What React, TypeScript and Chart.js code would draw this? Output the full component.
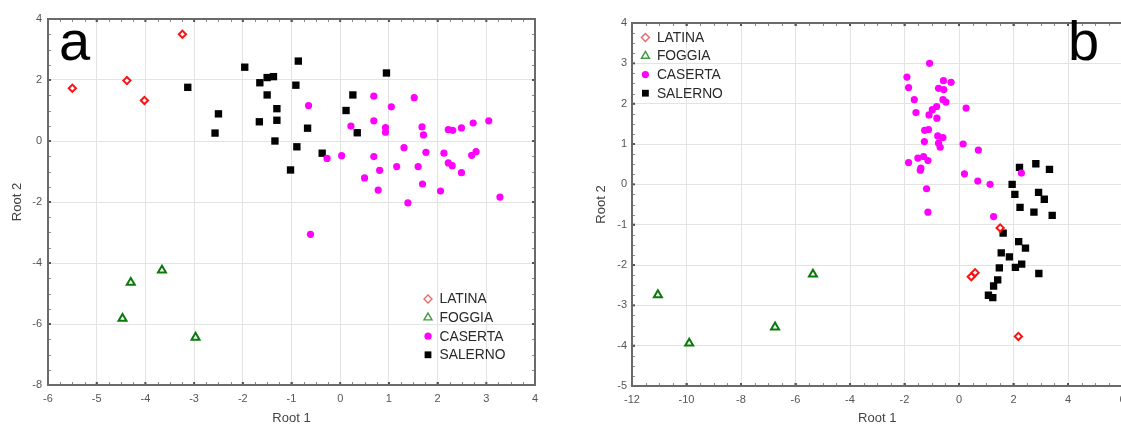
import React, { useEffect, useRef } from 'react';
import { Chart, registerables } from 'chart.js';
Chart.register(...registerables);

const seriesNames = ['LATINA', 'FOGGIA', 'CASERTA', 'SALERNO'];

// Panel a
const latinaA = [[-5.50, 1.73], [-4.38, 1.98], [-4.02, 1.33], [-3.24, 3.50]];
const foggiaA = [[-4.30, -4.64], [-3.66, -4.24], [-4.47, -5.82], [-2.97, -6.44]];
const casertaA = [
  [-0.65, 1.16], [-0.27, -0.57], [0.03, -0.48], [0.22, 0.49], [0.69, 1.47], [0.69, 0.66],
  [0.93, 0.44], [0.93, 0.29], [1.05, 1.12], [0.69, -0.51], [0.81, -0.96], [0.50, -1.21],
  [0.78, -1.61], [1.16, -0.84], [1.31, -0.22], [1.39, -2.03], [1.52, 1.42], [1.68, 0.46],
  [1.71, 0.20], [1.76, -0.37], [1.60, -0.84], [1.69, -1.41], [2.06, -1.64], [2.13, -0.40],
  [2.22, 0.37], [2.31, 0.35], [2.49, 0.43], [2.73, 0.59], [3.05, 0.66], [2.22, -0.72],
  [2.30, -0.81], [2.49, -1.04], [2.70, -0.47], [2.79, -0.35], [3.28, -1.84], [-0.61, -3.06],
];
const salernoA = [
  [-3.13, 1.76], [-2.50, 0.89], [-2.57, 0.26], [-1.96, 2.42], [-1.65, 1.91], [-1.50, 2.08],
  [-1.37, 2.11], [-1.50, 1.51], [-1.30, 1.06], [-1.30, 0.68], [-1.66, 0.63], [-1.34, 0.0],
  [-0.86, 2.62], [-0.91, 1.83], [-0.67, 0.42], [-0.89, -0.19], [-1.02, -0.95], [-0.37, -0.40],
  [0.26, 1.51], [0.12, 1.0], [0.35, 0.27], [0.95, 2.23],
];

// Panel b
const latinaB = [[1.51, -1.08], [0.45, -2.29], [0.59, -2.19], [2.18, -3.77]];
const foggiaB = [[-11.05, -2.74], [-9.90, -3.94], [-6.75, -3.54], [-5.36, -2.23]];
const casertaB = [
  [-1.08, 3.0], [-1.91, 2.66], [-1.85, 2.40], [-0.57, 2.57], [-0.29, 2.53], [-0.75, 2.38],
  [-0.56, 2.35], [-1.64, 2.10], [-0.59, 2.10], [-0.48, 2.04], [-1.58, 1.78], [-0.82, 1.93],
  [-0.98, 1.85], [-1.10, 1.72], [-0.81, 1.64], [0.26, 1.89], [-1.26, 1.34], [-1.12, 1.36],
  [-0.78, 1.20], [-0.59, 1.16], [-1.27, 1.06], [-0.75, 1.02], [-0.69, 0.92], [0.15, 1.0],
  [0.71, 0.85], [-1.85, 0.54], [-1.51, 0.65], [-1.30, 0.69], [-1.14, 0.59], [-1.40, 0.40],
  [-1.42, 0.35], [0.20, 0.26], [0.69, 0.08], [1.14, 0.0], [2.29, 0.28], [-1.19, -0.11],
  [-1.14, -0.69], [1.27, -0.80],
];
const salernoB = [
  [2.22, 0.42], [2.82, 0.51], [3.32, 0.37], [1.95, 0.0], [2.05, -0.25], [2.92, -0.20],
  [3.13, -0.37], [2.24, -0.57], [2.75, -0.69], [3.42, -0.77], [1.62, -1.21], [2.19, -1.42],
  [2.44, -1.58], [1.55, -1.70], [1.85, -1.80], [1.48, -2.07], [2.07, -2.06], [2.30, -1.98],
  [2.93, -2.21], [1.42, -2.37], [1.27, -2.52], [1.08, -2.75], [1.24, -2.81],
];

const xTicksA = { min: -6, max: 4, step: 1 };
const yTicksA = { min: -8, max: 4, step: 2 };
const xTicksB = { min: -12, max: 6, step: 2 };
const yTicksB = { min: -5, max: 4, step: 1 };

const FONT = 'Arial, "Liberation Sans", sans-serif';

const styles = [
  { pointStyle: 'rectRot', radius: 3.6, borderColor: '#ff1010', backgroundColor: 'rgba(255,255,255,1)', borderWidth: 2, legendColor: '#e86a6a' },
  { pointStyle: 'triangle', radius: 4.6, borderColor: '#0a7a0a', backgroundColor: 'rgba(255,255,255,1)', borderWidth: 2, legendColor: '#3f9a3f' },
  { pointStyle: 'circle', radius: 3.6, borderColor: '#ff00ff', backgroundColor: '#ff00ff', borderWidth: 0, legendColor: '#ff00ff' },
  { pointStyle: 'rect', radius: 5.2, borderColor: '#000000', backgroundColor: '#000000', borderWidth: 0, legendColor: '#000000' },
];

function toPts(arr: number[][]) {
  return arr.map(([x, y]) => ({ x, y }));
}

const decorPlugin = {
  id: 'decor',
  afterDraw(chart: any, _args: any, opts: any) {
    const { ctx, chartArea } = chart;
    const { left, right, top, bottom } = chartArea;
    const xs = chart.scales.x;
    const ys = chart.scales.y;
    const drawRight = !opts.hideRight;
    ctx.save();
    // minor ticks
    ctx.strokeStyle = '#8a8a8a';
    ctx.lineWidth = 1;
    const xsub = opts.xMinor, ysub = opts.yMinor;
    for (let v = xs.min; v <= xs.max + 1e-9; v += xsub) {
      const px = Math.round(xs.getPixelForValue(v)) + 0.5;
      ctx.beginPath();
      ctx.moveTo(px, top); ctx.lineTo(px, top + 3);
      ctx.moveTo(px, bottom); ctx.lineTo(px, bottom - 3);
      ctx.stroke();
    }
    for (let v = ys.min; v <= ys.max + 1e-9; v += ysub) {
      const py = Math.round(ys.getPixelForValue(v)) + 0.5;
      ctx.beginPath();
      ctx.moveTo(left, py); ctx.lineTo(left + 3, py);
      if (drawRight) { ctx.moveTo(right, py); ctx.lineTo(right - 3, py); }
      ctx.stroke();
    }
    // major tick dots
    ctx.fillStyle = '#555';
    for (let v = xs.min; v <= xs.max + 1e-9; v += opts.xStep) {
      const px = xs.getPixelForValue(v);
      ctx.fillRect(px - 1, bottom - 3, 2, 3);
      ctx.fillRect(px - 1, top, 2, 3);
    }
    for (let v = ys.min; v <= ys.max + 1e-9; v += opts.yStep) {
      const py = ys.getPixelForValue(v);
      ctx.fillRect(left, py - 1, 3, 2);
      if (drawRight) ctx.fillRect(right - 3, py - 1, 3, 2);
    }
    // frame
    ctx.strokeStyle = '#6a6a6a';
    ctx.lineWidth = 2;
    ctx.strokeRect(left, top, right - left, bottom - top);

    // legend
    const lx = opts.legendFromRight ? right - opts.legendX : left + opts.legendX;
    const ly0 = opts.legendFromBottom ? bottom - opts.legendY : top + opts.legendY;
    ctx.font = `13.8px ${FONT}`;
    ctx.textBaseline = 'middle';
    ctx.textAlign = 'left';
    seriesNames.forEach((name, i) => {
      const s = styles[i];
      const cy = ly0 + i * 18.6;
      ctx.save();
      ctx.lineWidth = 1.4;
      ctx.strokeStyle = s.legendColor;
      ctx.fillStyle = s.legendColor;
      ctx.beginPath();
      if (s.pointStyle === 'rectRot') {
        const r = 4;
        ctx.moveTo(lx - r, cy); ctx.lineTo(lx, cy - r); ctx.lineTo(lx + r, cy); ctx.lineTo(lx, cy + r); ctx.closePath();
        ctx.stroke();
      } else if (s.pointStyle === 'triangle') {
        const r = 4.6;
        ctx.moveTo(lx, cy - r); ctx.lineTo(lx + r * 0.866, cy + r * 0.5); ctx.lineTo(lx - r * 0.866, cy + r * 0.5); ctx.closePath();
        ctx.stroke();
      } else if (s.pointStyle === 'circle') {
        ctx.arc(lx, cy, 3.6, 0, Math.PI * 2);
        ctx.fill();
      } else {
        ctx.rect(lx - 3.4, cy - 3.4, 6.8, 6.8);
        ctx.fill();
      }
      ctx.restore();
      ctx.fillStyle = '#2a2a2a';
      ctx.fillText(name, lx + 11.5, cy + 0.5);
    });

    // panel letter
    ctx.fillStyle = '#000';
    ctx.font = `56px ${FONT}`;
    ctx.textBaseline = 'alphabetic';
    ctx.textAlign = 'left';
    ctx.fillText(opts.letter, opts.letterX, opts.letterY);
    ctx.restore();
  },
};

type PanelProps = {
  data: number[][][];
  xt: { min: number; max: number; step: number };
  yt: { min: number; max: number; step: number };
  width: number;
  padLeft: number;
  padTop: number;
  padRight: number;
  yAxisWidth: number;
  xAxisHeight: number;
  yTickPad: number;
  decor: any;
  left: number;
};

function Panel(p: PanelProps) {
  const ref = useRef<HTMLCanvasElement | null>(null);
  useEffect(() => {
    if (!ref.current) return;
    const datasets = p.data.map((arr, i) => ({
      label: seriesNames[i],
      data: toPts(arr),
      pointStyle: styles[i].pointStyle as any,
      pointRadius: styles[i].radius,
      pointBorderWidth: styles[i].borderWidth,
      pointBorderColor: styles[i].borderColor,
      pointBackgroundColor: styles[i].backgroundColor,
      borderColor: styles[i].borderColor,
      backgroundColor: styles[i].backgroundColor,
      showLine: false,
    }));
    const chart = new Chart(ref.current, {
      type: 'scatter',
      data: { datasets },
      plugins: [decorPlugin],
      options: {
        animation: false,
        responsive: false,
        maintainAspectRatio: false,
        devicePixelRatio: 1,
        layout: { padding: { left: p.padLeft, top: p.padTop, right: p.padRight, bottom: 0 } },
        plugins: {
          legend: { display: false },
          tooltip: { enabled: false },
          decor: p.decor,
        } as any,
        scales: {
          x: {
            type: 'linear',
            min: p.xt.min,
            max: p.xt.max,
            afterFit: (s: any) => { s.height = p.xAxisHeight; },
            ticks: { stepSize: p.xt.step, color: '#555', font: { size: 11, family: FONT }, padding: 7, maxRotation: 0, autoSkip: false },
            grid: { color: '#e3e3e3', lineWidth: 1, drawTicks: false },
            border: { display: false },
            title: { display: true, text: 'Root 1', color: '#444', font: { size: 13, family: FONT }, padding: { top: 0, bottom: 0 } },
          },
          y: {
            type: 'linear',
            min: p.yt.min,
            max: p.yt.max,
            afterFit: (s: any) => { s.width = p.yAxisWidth; },
            ticks: { stepSize: p.yt.step, color: '#555', font: { size: 11, family: FONT }, padding: p.yTickPad, autoSkip: false },
            grid: { color: '#e3e3e3', lineWidth: 1, drawTicks: false },
            border: { display: false },
            title: { display: true, text: 'Root 2', color: '#444', font: { size: 13, family: FONT }, padding: { top: 10, bottom: 0 } },
          },
        },
      } as any,
    });
    return () => chart.destroy();
  }, []);
  return (
    <canvas
      ref={ref}
      width={p.width}
      height={426}
      style={{ position: 'absolute', left: p.left, top: 0, width: p.width, height: 426 }}
    />
  );
}

export default function App() {
  useEffect(() => {
    document.body.style.margin = '0';
    document.body.style.overflow = 'hidden';
  }, []);
  return (
    <div style={{ position: 'relative', width: 1121, height: 426, overflow: 'hidden', background: '#fff' }}>
      <Panel
        left={0}
        width={560}
        data={[latinaA, foggiaA, casertaA, salernoA]}
        xt={xTicksA}
        yt={yTicksA}
        padLeft={0}
        padTop={19}
        padRight={25}
        yAxisWidth={48}
        xAxisHeight={41}
        yTickPad={6}
        decor={{
          xMinor: 0.25, yMinor: 0.5, xStep: 1, yStep: 2,
          legendFromRight: true, legendX: 107, legendFromBottom: true, legendY: 86,
          letter: 'a', letterX: 59, letterY: 60,
        }}
      />
      <Panel
        left={560}
        width={580}
        data={[latinaB, foggiaB, casertaB, salernoB]}
        xt={xTicksB}
        yt={yTicksB}
        padLeft={24}
        padTop={23}
        padRight={17.5}
        yAxisWidth={48}
        xAxisHeight={40}
        yTickPad={5}
        decor={{
          xMinor: 0.5, yMinor: 0.25, xStep: 2, yStep: 1, hideRight: true,
          legendFromRight: false, legendX: 13.4, legendFromBottom: false, legendY: 14.4,
          letter: 'b', letterX: 508, letterY: 60,
        }}
      />
    </div>
  );
}
